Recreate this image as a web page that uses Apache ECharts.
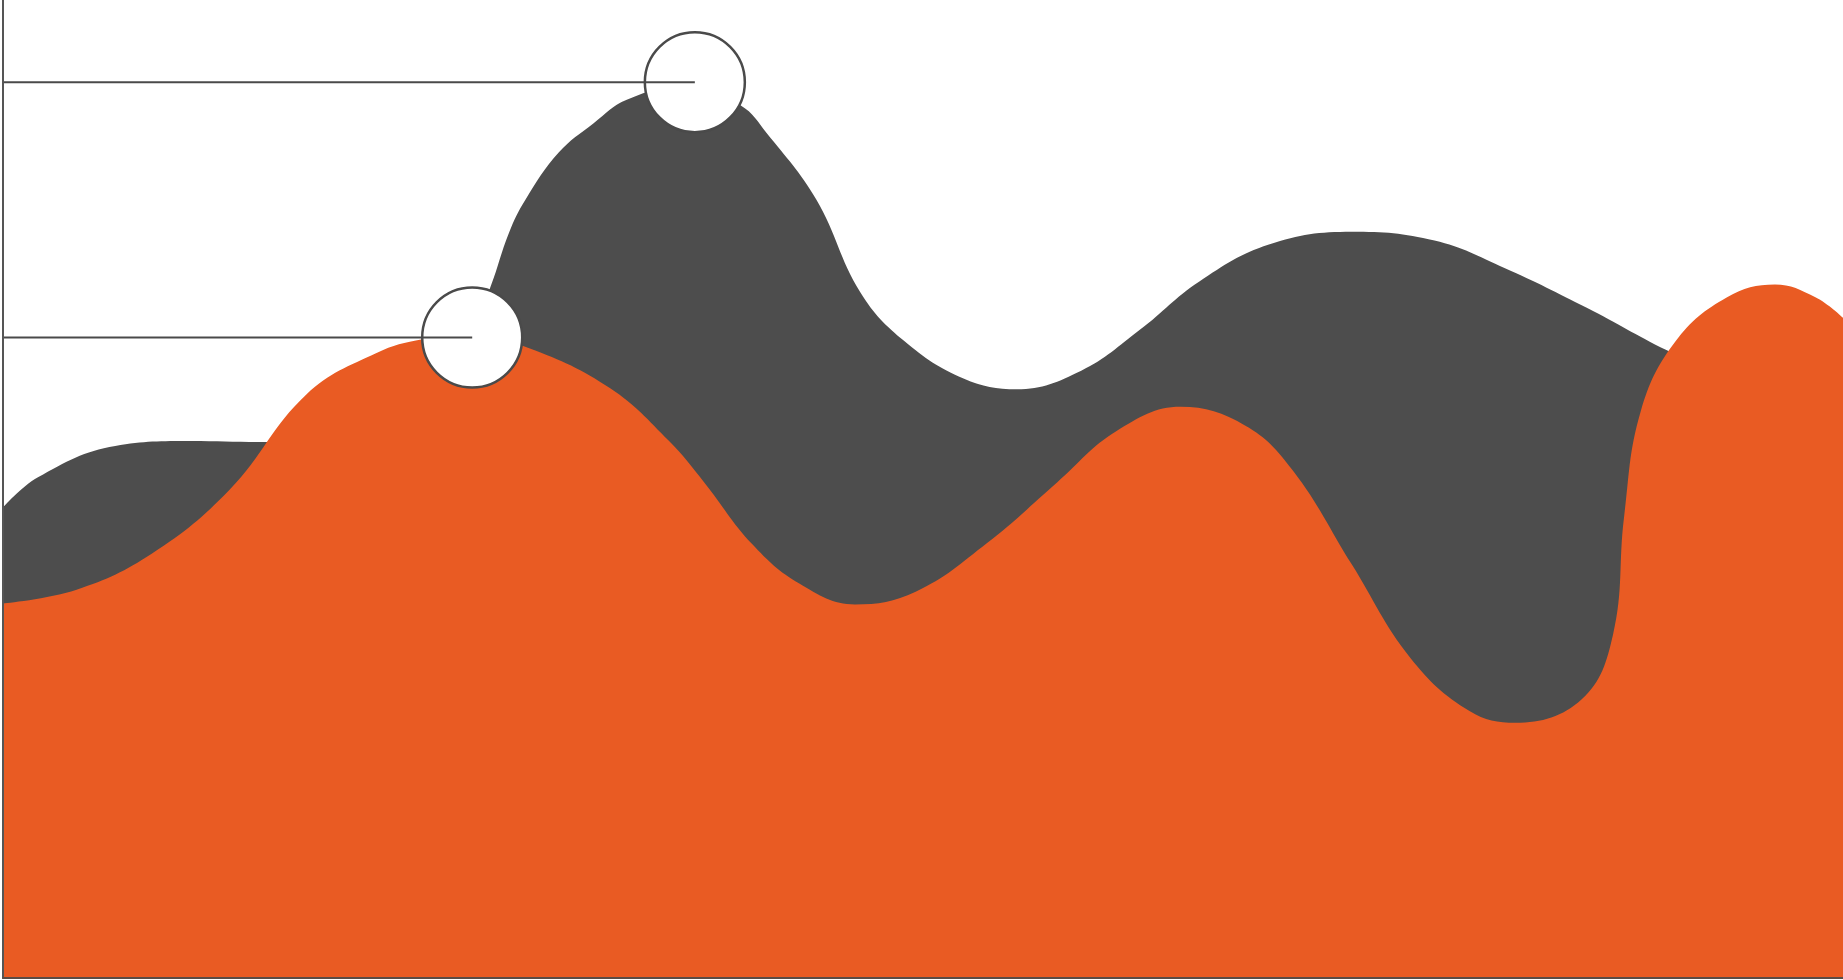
<!DOCTYPE html>
<html>
<head>
<meta charset="utf-8">
<script src="https://cdn.jsdelivr.net/npm/echarts@6/dist/echarts.min.js"></script>
<style>html,body{margin:0;padding:0;background:#fff;}#c{width:1843px;height:980px;}</style>
</head>
<body>
<div id="c"></div>
<script>
// Back (gray) series: [x, y]
var graySeries = [
  [0, 48.1], [1.9, 51.2], [6.1, 54.4], [10.2, 54.9], [13.9, 54.8], [20.9, 57.9],
  [25.0, 63.9], [26.5, 70.7], [27.5, 76.2], [28.4, 79.6], [30.2, 84.4], [32.1, 87.4],
  [33.9, 89.8], [37.2, 91.3], [40.1, 89.2], [41.5, 86.4], [44.2, 79.6], [46.6, 70.1],
  [49.0, 65.1], [52.2, 61.3], [55.1, 60.2], [58.6, 62.1], [61.8, 66.3], [65.0, 71.2],
  [68.8, 75.0], [73.3, 76.3], [77.8, 75.4], [81.6, 72.6], [86.1, 68.5], [90.4, 64.2],
  [95.0, 60.3], [100, 57.9]
];
// Front (orange) series: [x, y]
var orangeSeries = [
  [0, 38.3], [4.0, 39.7], [8.1, 43.4], [12.3, 49.9], [16.5, 59.7], [20.3, 63.9],
  [22.8, 65.3], [25.4, 65.7], [28.6, 64.4], [33.0, 60.3], [36.2, 54.9], [38.1, 50.7],
  [40.7, 44.4], [43.3, 40.3], [46.3, 38.2], [49.6, 39.5], [53.5, 44.5], [57.3, 50.7],
  [60.5, 55.9], [64.0, 58.4], [67.5, 56.5], [70.1, 51.9], [73.3, 42.3], [76.5, 32.7],
  [79.7, 27.3], [82.2, 26.1], [85.8, 28.5], [87.5, 35.1], [88.1, 47.1], [89.0, 57.9],
  [90.9, 65.1], [93.7, 69.6], [96.3, 70.9], [98.5, 69.6], [100, 67.5]
];
// Highlighted peaks: [x, y]
var peakMarkers = [[37.6, 91.6], [25.5, 65.5]];

var series = [
  {
    type: 'line', data: graySeries, smooth: 0.4, showSymbol: false,
    lineStyle: { width: 0 }, areaStyle: { color: '#4d4d4d', opacity: 1 }, z: 2, silent: true
  },
  {
    type: 'line', data: orangeSeries, smooth: 0.4, showSymbol: false,
    lineStyle: { width: 0 }, areaStyle: { color: '#e95b23', opacity: 1 }, z: 3, silent: true
  },
  {
    type: 'scatter', data: peakMarkers, symbol: 'circle', symbolSize: 100, z: 5, silent: true,
    itemStyle: { color: '#ffffff', opacity: 1, borderColor: '#4a4a4a', borderWidth: 2.5 }
  }
];
peakMarkers.forEach(function (p) {
  series.push({
    type: 'line', data: [[0, p[1]], p], showSymbol: false, z: 6, silent: true,
    lineStyle: { color: '#4a4a4a', width: 2 }
  });
});

var chart = echarts.init(document.getElementById('c'));
chart.setOption({
  animation: false,
  grid: { left: 3, right: 0, top: 0, bottom: 2 },
  xAxis: {
    type: 'value', min: 0, max: 100, z: 10,
    axisLine: { show: true, lineStyle: { color: '#5b4b44', width: 2 } },
    axisTick: { show: false }, axisLabel: { show: false }, splitLine: { show: false }
  },
  yAxis: {
    type: 'value', min: 0, max: 100, z: 10,
    axisLine: { show: true, lineStyle: { color: '#555555', width: 2 } },
    axisTick: { show: false }, axisLabel: { show: false }, splitLine: { show: false }
  },
  series: series
});
</script>
</body>
</html>
